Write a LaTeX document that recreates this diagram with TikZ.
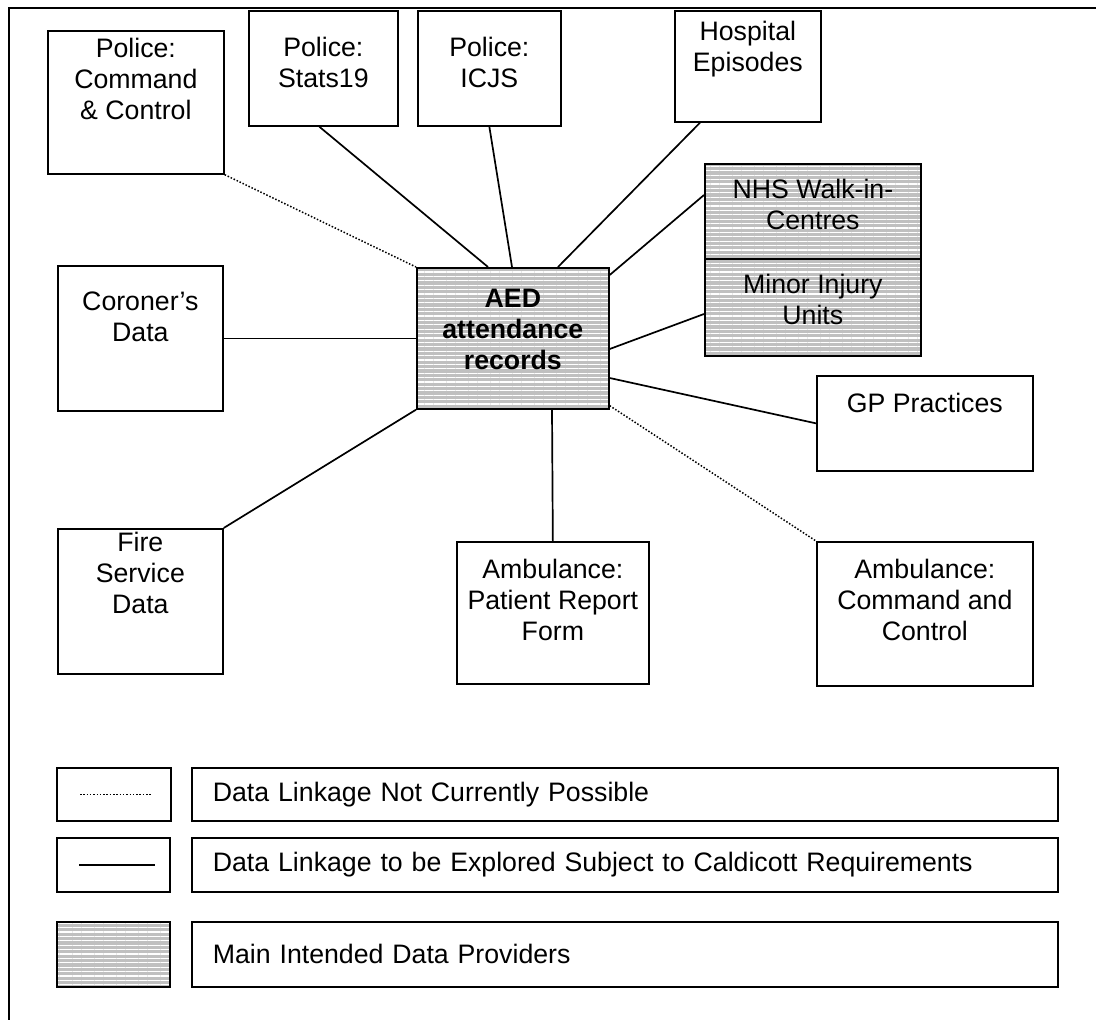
\documentclass[tikz,border=0pt]{standalone}
\usepackage{fontspec}
\setmainfont{Liberation Sans}
\usetikzlibrary{calc,patterns.meta}
\definecolor{hatchgray}{RGB}{192,192,192}
\newcommand{\bx}[4]{\parbox[c][#2pt][t]{#1pt}{\centering\vspace*{#3pt}#4\par}}
\begin{document}
\begin{tikzpicture}[x=1pt,y=-1pt,
  font=\fontsize{26.7}{31.3}\selectfont,
  box/.style={draw, line width=1.7pt, inner sep=0pt, anchor=north west},
  hatched/.style={preaction={fill=hatchgray},
    preaction={pattern={Lines[angle=0,distance=4.4pt,line width=1.3pt]}, pattern color=white}},
  link/.style={line width=1.7pt},
  nolink/.style={line width=1.5pt, dash pattern=on 1.5pt off 1.8pt},
  legtext/.style={box, minimum height=#1, text width=824pt, inner xsep=21pt, inner ysep=0pt, align=left}]
\useasboundingbox (0,0) rectangle (1096,1020);
\fill[white] (0,0) rectangle (1096,1020);
% outer frame
\draw[line width=1.6pt] (9,1020) -- (9,8) -- (1096,8);

% boxes
\node[box] (pcc) at (47,30) {\bx{176}{143}{7}{Police:\\Command\\\& Control}};
\node[box] (s19) at (248,10) {\bx{149}{115}{26}{Police:\\Stats19}};
\node[box] (icjs) at (417,10) {\bx{143}{115}{26}{Police:\\ICJS}};
\node[box] (hosp) at (674,10) {\bx{146}{111}{10}{Hospital\\Episodes}};
\node[box,hatched] (nhs) at (704,163) {\bx{216}{95}{15}{NHS Walk-in-\\Centres}};
\node[box,hatched] (miu) at (704,258) {\bx{216}{97}{15}{Minor Injury\\Units}};
\node[box,hatched] (aed) at (416,267) {\bx{192}{141}{21}{\bfseries AED\\attendance\\records}};
\node[box] (cor) at (57,265) {\bx{165}{145}{26}{Coroner’s\\Data}};
\node[box] (gp) at (816,375) {\bx{216}{95}{17}{GP Practices}};
\node[box] (fire) at (57,528) {\bx{165}{145}{3}{Fire\\Service\\Data}};
\node[box] (prf) at (456,541) {\bx{192}{142}{17}{Ambulance:\\Patient Report\\Form}};
\node[box] (acc) at (816,541) {\bx{216}{144}{17}{Ambulance:\\Command and\\Control}};

% connectors
\draw[nolink] (pcc.south east) -- (aed.north west);
\draw[link] ($(s19.south)+(-4,0)$) -- ($(aed.north west)+(72,0)$);
\draw[link] (icjs.south) -- ($(aed.north west)+(96,0)$);
\draw[link] ($(hosp.south west)+(26,0)$) -- ($(aed.north west)+(142,0)$);
\draw[link] ($(nhs.north west)+(0,32)$) -- ($(aed.north east)+(0,8)$);
\draw[link] ($(miu.north west)+(0,56)$) -- ($(aed.north east)+(0,82)$);
\draw[link] (cor.east) -- (aed.west);
\draw[link] ($(aed.north east)+(0,111)$) -- (gp.west);
\draw[link] (fire.north east) -- (aed.south west);
\draw[link] ($(aed.south west)+(136,0)$) -- (prf.north);
\draw[nolink] ($(aed.south east)+(0,-4)$) -- (acc.north west);

% legend
\node[box, minimum width=114pt, minimum height=53pt] (la) at (56,767) {};
\node[legtext=53pt] (ta) at (191,767) {Data Linkage Not Currently Possible};
\node[box, minimum width=113pt, minimum height=54pt] (lb) at (56,837) {};
\node[legtext=54pt] (tb) at (191,837) {Data Linkage to be Explored Subject to Caldicott Requirements};
\node[box, hatched, minimum width=113pt, minimum height=65pt] (lc) at (56,921) {};
\node[legtext=65pt] (tc) at (191,921) {Main Intended Data Providers};

\draw[nolink] ($(la.west)+(24,0)$) -- ($(la.east)+(-20,0)$);
\draw[link] ($(lb.west)+(23,0)$) -- ($(lb.east)+(-16,0)$);
\end{tikzpicture}
\end{document}
